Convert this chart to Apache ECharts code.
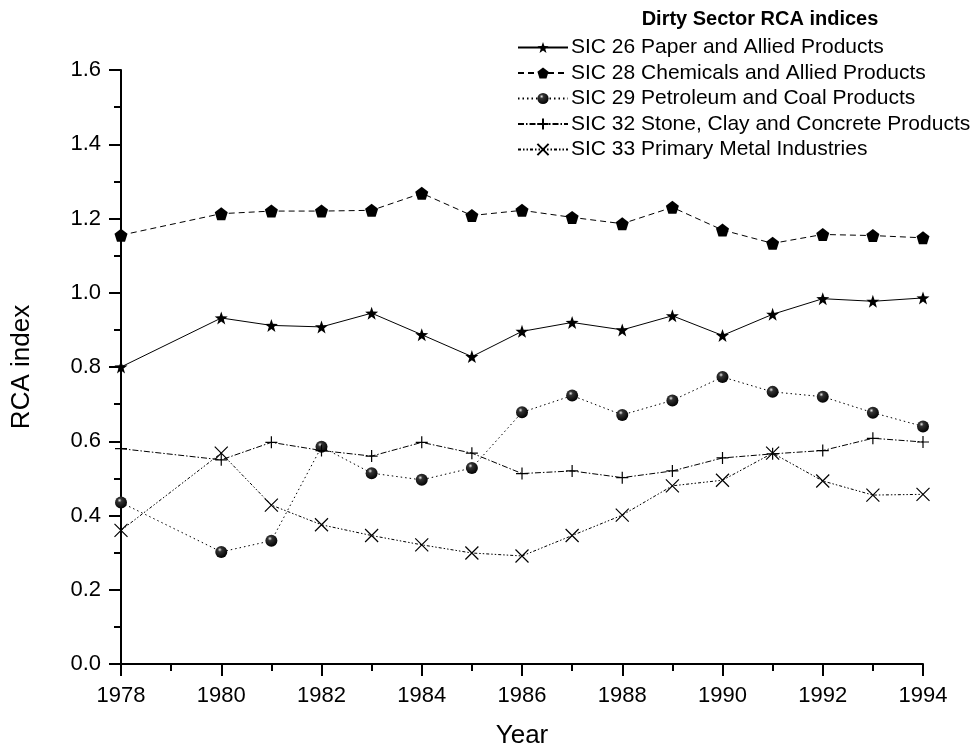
<!DOCTYPE html>
<html><head><meta charset="utf-8">
<script src="https://cdn.jsdelivr.net/npm/echarts@6/dist/echarts.min.js"></script>
<style>html,body{margin:0;padding:0;background:#fff}#c{width:977px;height:751px}</style>
</head><body><div id="c"></div>
<script>
const years = [1978,1980,1981,1982,1983,1984,1985,1986,1987,1988,1989,1990,1991,1992,1993,1994];
const sic26 = [0.800,0.932,0.912,0.908,0.945,0.887,0.828,0.896,0.920,0.900,0.938,0.885,0.942,0.984,0.977,0.986];
const sic28 = [1.155,1.213,1.220,1.220,1.222,1.268,1.208,1.222,1.203,1.186,1.230,1.169,1.133,1.157,1.154,1.148];
const sic29 = [0.435,0.302,0.332,0.585,0.514,0.496,0.528,0.678,0.723,0.671,0.710,0.773,0.733,0.720,0.677,0.640];
const sic32 = [0.580,0.550,0.597,0.575,0.560,0.597,0.568,0.513,0.520,0.502,0.520,0.555,0.566,0.575,0.608,0.598];
const sic33 = [0.360,0.568,0.428,0.375,0.346,0.321,0.299,0.291,0.346,0.401,0.480,0.495,0.568,0.493,0.455,0.457];
const names = ['SIC 26 Paper and Allied Products','SIC 28 Chemicals and Allied Products','SIC 29 Petroleum and Coal Products','SIC 32 Stone, Clay and Concrete Products','SIC 33 Primary Metal Industries'];

const pair = arr => years.map((y,i)=>[y,arr[i]]);
const star = 'path://M0,-10L2.35,-3.24L9.51,-3.09L3.8,1.24L5.88,8.09L0,4L-5.88,8.09L-3.8,1.24L-9.51,-3.09L-2.35,-3.24Z';
const pent = 'path://M0,-10L9.51,-3.09L5.88,8.09L-5.88,8.09L-9.51,-3.09Z';
const plus = 'path://M0,-10L0,10M-10,0L10,0';
const cross = 'path://M-10,-10L10,10M-10,10L10,-10';
const sphere = {type:'radial',x:0.38,y:0.32,r:0.7,colorStops:[{offset:0,color:'#e8e8e8'},{offset:0.25,color:'#333'},{offset:1,color:'#000'}]};
const F = 'Liberation Sans, Arial, sans-serif';

const chart = echarts.init(document.getElementById('c'));
chart.setOption({
  animation:false,
  backgroundColor:'#fff',
  title:{text:'Dirty Sector RCA indices',left:755,top:4,textAlign:'center',
    textStyle:{fontFamily:F,fontSize:20,fontWeight:'bold',color:'#000'}},
  legend:{orient:'vertical',left:512,top:32,itemWidth:50,itemHeight:14,itemGap:4.5,
    textStyle:{fontFamily:F,fontSize:21,color:'#000',padding:[0,0,0,-2]},data:names},
  grid:{left:121,right:54,top:70,bottom:87,containLabel:false,outerBoundsMode:'none'},
  xAxis:{type:'value',min:1978,max:1994,interval:2,name:'Year',nameLocation:'middle',nameGap:59,
    nameTextStyle:{fontFamily:F,fontSize:26,color:'#000'},
    axisLine:{show:true,lineStyle:{color:'#000',width:2}},
    axisTick:{show:true,inside:false,length:12,lineStyle:{color:'#000',width:2}},
    minorTick:{show:true,splitNumber:2,length:7,lineStyle:{color:'#000',width:2}},
    splitLine:{show:false},
    axisLabel:{fontFamily:F,fontSize:22,color:'#000',margin:21,formatter:v=>String(v)}},
  yAxis:{type:'value',min:0,max:1.6,interval:0.2,name:'RCA index',nameLocation:'middle',nameGap:86,
    nameTextStyle:{fontFamily:F,fontSize:26,color:'#000'},
    axisLine:{show:true,lineStyle:{color:'#000',width:2}},
    axisTick:{show:true,inside:false,length:12,lineStyle:{color:'#000',width:2}},
    minorTick:{show:true,splitNumber:2,length:7,lineStyle:{color:'#000',width:2}},
    splitLine:{show:false},
    axisLabel:{fontFamily:F,fontSize:22,color:'#000',margin:20,formatter:v=>v.toFixed(1)}},
  series:[
    {name:names[0],type:'line',data:pair(sic26),symbol:star,symbolSize:13,
      lineStyle:{color:'#000',width:1,type:'solid'},itemStyle:{color:'#000'}},
    {name:names[1],type:'line',data:pair(sic28),symbol:pent,symbolSize:13,
      lineStyle:{color:'#000',width:1,type:[6,4]},itemStyle:{color:'#000'}},
    {name:names[2],type:'line',data:pair(sic29),symbol:'circle',symbolSize:12,
      lineStyle:{color:'#000',width:1,type:[1.5,3]},itemStyle:{color:sphere}},
    {name:names[3],type:'line',data:pair(sic32),symbol:plus,symbolSize:12,
      lineStyle:{color:'#000',width:1,type:[6,2,1.5,2]},itemStyle:{color:'none',borderColor:'#000',borderWidth:1.2}},
    {name:names[4],type:'line',data:pair(sic33),symbol:cross,symbolSize:13,
      lineStyle:{color:'#000',width:1,type:[3,2,1.5,2,1.5,2]},itemStyle:{color:'none',borderColor:'#000',borderWidth:1.2}}
  ]
});
</script></body></html>
